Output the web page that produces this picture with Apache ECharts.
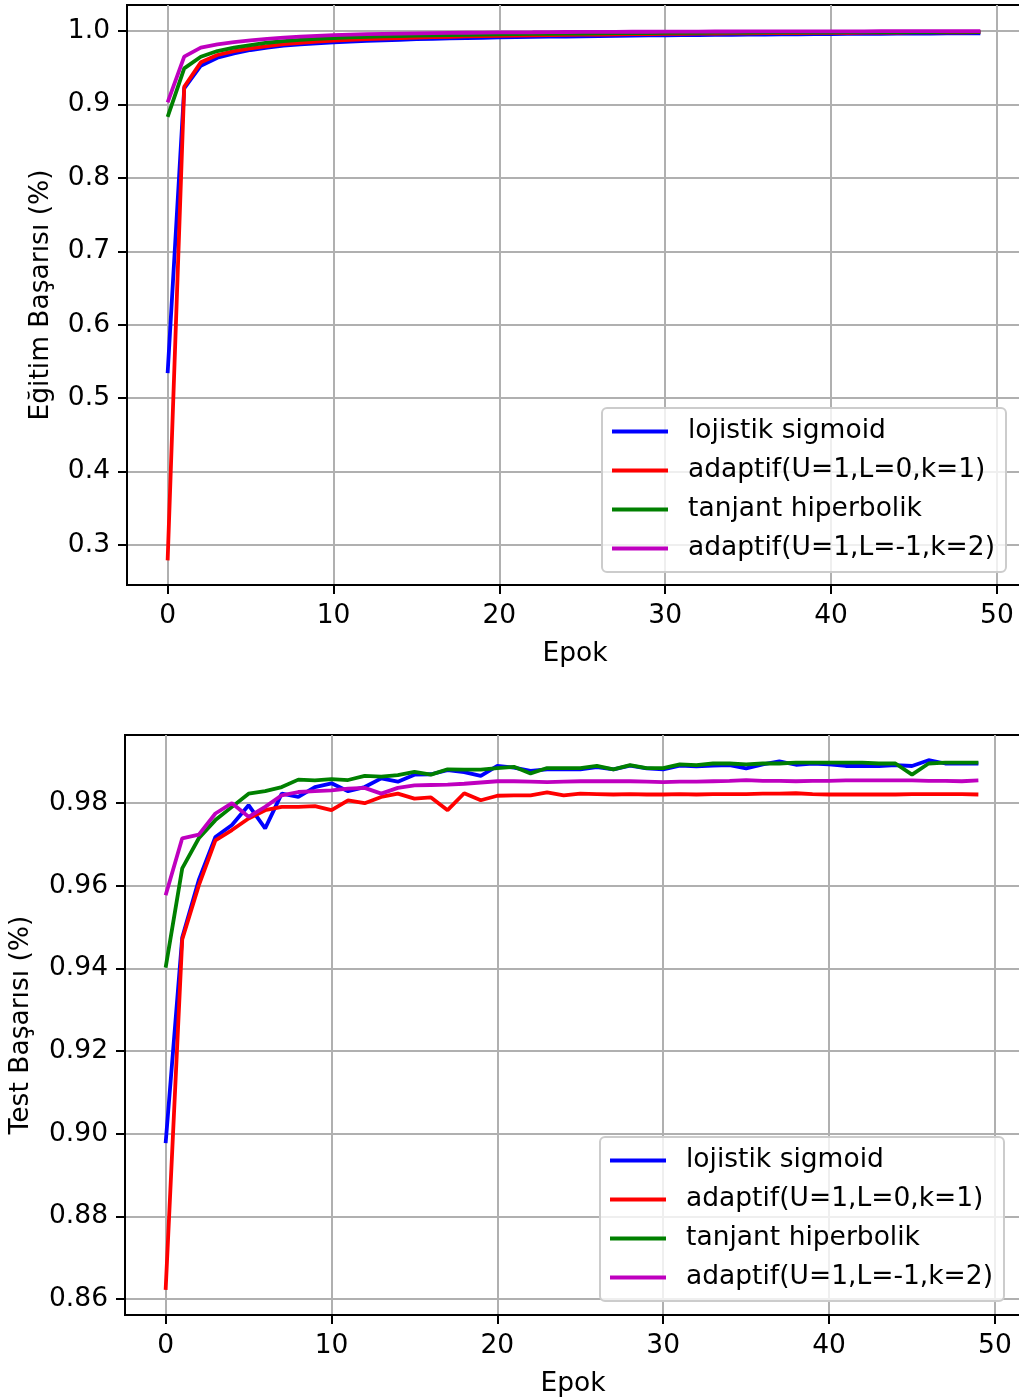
<!DOCTYPE html>
<html>
<head>
<meta charset="utf-8">
<script src="https://cdn.jsdelivr.net/npm/echarts@6/dist/echarts.min.js"></script>
<style>
html,body{margin:0;padding:0;background:#fff;overflow:hidden;}
#chart{width:1019px;height:1400px;}
</style>
</head>
<body>
<div id="chart"></div>
<script>
const epochs = [0,1,2,3,4,5,6,7,8,9,10,11,12,13,14,15,16,17,18,19,20,21,22,23,24,25,26,27,28,29,30,31,32,33,34,35,36,37,38,39,40,41,42,43,44,45,46,47,48,49];
const seriesNames = ['lojistik sigmoid', 'adaptif(U=1,L=0,k=1)', 'tanjant hiperbolik', 'adaptif(U=1,L=-1,k=2)'];

// Training accuracy (top)
const trainSigmoid = [0.534,0.922,0.9527,0.9636,0.9695,0.9741,0.9775,0.9800,0.9818,0.9833,0.9846,0.9857,0.9866,0.9874,0.9881,0.9888,0.9894,0.9899,0.9904,0.9908,0.9912,0.9916,0.9919,0.9922,0.9925,0.9928,0.9931,0.9934,0.9936,0.9939,0.9941,0.9943,0.9945,0.9947,0.9949,0.9951,0.9952,0.9954,0.9955,0.9957,0.9958,0.9960,0.9961,0.9962,0.9963,0.9964,0.9966,0.9967,0.9968,0.9969];
const trainAdaptif1 = [0.279,0.924,0.9573,0.9673,0.9727,0.9764,0.9795,0.9820,0.9840,0.9856,0.9869,0.9880,0.9889,0.9897,0.9904,0.9910,0.9916,0.9921,0.9926,0.9930,0.9934,0.9938,0.9941,0.9944,0.9947,0.9950,0.9952,0.9954,0.9956,0.9958,0.9960,0.9962,0.9964,0.9966,0.9967,0.9969,0.9970,0.9972,0.9973,0.9974,0.9975,0.9976,0.9977,0.9978,0.9979,0.9980,0.9981,0.9982,0.9983,0.9984];
const trainTanh = [0.8831,0.9491,0.9650,0.9727,0.9773,0.9809,0.9840,0.9862,0.9879,0.9893,0.9904,0.9913,0.9920,0.9926,0.9932,0.9937,0.9941,0.9945,0.9949,0.9952,0.9955,0.9958,0.9960,0.9962,0.9964,0.9966,0.9968,0.9970,0.9971,0.9973,0.9974,0.9975,0.9976,0.9977,0.9978,0.9979,0.9980,0.9981,0.9982,0.9982,0.9983,0.9984,0.9984,0.9985,0.9985,0.9986,0.9986,0.9987,0.9987,0.9988];
const trainAdaptif2 = [0.9027,0.9650,0.9773,0.9818,0.9848,0.9872,0.9893,0.9910,0.9923,0.9934,0.9943,0.9950,0.9956,0.9961,0.9965,0.9968,0.9971,0.9974,0.9976,0.9978,0.9980,0.9982,0.9983,0.9985,0.9986,0.9987,0.9988,0.9989,0.9990,0.9990,0.9991,0.9992,0.9992,0.9993,0.9993,0.9994,0.9994,0.9995,0.9995,0.9995,0.9996,0.9996,0.9996,0.9997,0.9997,0.9997,0.9997,0.9998,0.9998,0.9998];

// Test accuracy (bottom)
const testSigmoid = [0.8977,0.9475,0.9614,0.9718,0.9747,0.9795,0.9739,0.9823,0.9815,0.9839,0.9848,0.9829,0.9839,0.9860,0.9852,0.9869,0.9870,0.9880,0.9875,0.9866,0.9890,0.9886,0.9878,0.9882,0.9882,0.9882,0.9887,0.9882,0.9891,0.9884,0.9882,0.9891,0.9889,0.9891,0.9892,0.9884,0.9894,0.9901,0.9893,0.9896,0.9894,0.9890,0.9890,0.9890,0.9892,0.9890,0.9904,0.9896,0.9896,0.9896];
const testAdaptif1 = [0.8622,0.9470,0.9601,0.9710,0.9735,0.9763,0.9783,0.9791,0.9791,0.9793,0.9783,0.9807,0.9800,0.9815,0.9823,0.9811,0.9814,0.9783,0.9824,0.9807,0.9818,0.9819,0.9819,0.9826,0.9819,0.9823,0.9822,0.9821,0.9822,0.9821,0.9821,0.9822,0.9821,0.9822,0.9822,0.9822,0.9823,0.9823,0.9824,0.9822,0.9821,0.9821,0.9821,0.9821,0.9821,0.9822,0.9822,0.9822,0.9822,0.9821];
const testTanh = [0.9402,0.9642,0.9715,0.9759,0.9791,0.9823,0.9829,0.9839,0.9857,0.9855,0.9858,0.9856,0.9866,0.9864,0.9868,0.9876,0.9869,0.9882,0.9881,0.9881,0.9885,0.9888,0.9872,0.9885,0.9885,0.9885,0.9890,0.9882,0.9892,0.9885,0.9885,0.9894,0.9892,0.9896,0.9896,0.9894,0.9896,0.9896,0.9898,0.9898,0.9898,0.9898,0.9898,0.9896,0.9896,0.9869,0.9896,0.9898,0.9898,0.9898];
const testAdaptif2 = [0.9577,0.9715,0.9724,0.9775,0.9800,0.9767,0.9791,0.9819,0.9827,0.9829,0.9831,0.9835,0.9837,0.9823,0.9837,0.9843,0.9844,0.9845,0.9847,0.9850,0.9853,0.9853,0.9852,0.9851,0.9852,0.9853,0.9853,0.9853,0.9853,0.9852,0.9851,0.9852,0.9852,0.9853,0.9854,0.9856,0.9854,0.9854,0.9853,0.9854,0.9854,0.9855,0.9855,0.9855,0.9855,0.9855,0.9854,0.9854,0.9853,0.9855];

// Tick labels
const xTicks = [0,10,20,30,40,50];
const yTicksTop = [0.3,0.4,0.5,0.6,0.7,0.8,0.9,1.0];
const yTicksBottom = [0.86,0.88,0.90,0.92,0.94,0.96,0.98];

const colors = ['#0000ff', '#ff0000', '#008000', '#bf00bf'];
const FONT = 'DejaVu Sans';
const FS = 26.5;

function xAxisDef(gridIndex) {
  return {
    type: 'value', gridIndex: gridIndex,
    min: -2.45, max: 51.57,
    name: 'Epok', nameLocation: 'middle', nameGap: 56,
    nameTextStyle: {fontFamily: FONT, fontSize: FS, color: '#000'},
    axisLine: {show: true, onZero: false, lineStyle: {color: '#000', width: 2}},
    axisTick: {show: true, inside: false, length: 9, lineStyle: {color: '#000', width: 2}, customValues: xTicks},
    axisLabel: {show: true, margin: 18, fontFamily: FONT, fontSize: FS, color: '#000', customValues: xTicks,
      formatter: v => String(Math.round(v))},
    splitLine: {show: true, lineStyle: {color: '#b0b0b0', width: 2}}
  };
}
function yAxisDef(gridIndex, min, max, ticks, dec, name, gap) {
  return {
    type: 'value', gridIndex: gridIndex,
    min: min, max: max,
    name: name, nameLocation: 'middle', nameGap: gap,
    nameTextStyle: {fontFamily: FONT, fontSize: FS, color: '#000'},
    axisLine: {show: true, onZero: false, lineStyle: {color: '#000', width: 2}},
    axisTick: {show: true, inside: false, length: 9, lineStyle: {color: '#000', width: 2}, customValues: ticks},
    axisLabel: {show: true, margin: 17, fontFamily: FONT, fontSize: FS, color: '#000', customValues: ticks,
      formatter: v => Number(v).toFixed(dec)},
    splitLine: {show: true, lineStyle: {color: '#b0b0b0', width: 2}}
  };
}
function legendDef(left, top) {
  return {
    orient: 'vertical', left: left, top: top,
    data: seriesNames,
    icon: 'rect', itemWidth: 56, itemHeight: 4, itemGap: 12,
    padding: [10, 11, 10, 10],
    backgroundColor: 'rgba(255,255,255,0.8)',
    borderColor: '#cccccc', borderWidth: 2, borderRadius: 5,
    textStyle: {fontFamily: FONT, fontSize: FS, color: '#000', lineHeight: 27, padding: [0, 0, 0, 15]},
    selectedMode: false
  };
}
function lineSeries(name, data, idx, gridIdx) {
  return {
    type: 'line', name: name,
    xAxisIndex: gridIdx, yAxisIndex: gridIdx,
    data: epochs.map((e, i) => [e, data[i]]),
    showSymbol: false, symbol: 'none',
    lineStyle: {color: colors[idx], width: 3.8},
    itemStyle: {color: colors[idx]},
    animation: false, z: 3 + idx
  };
}

const chart = echarts.init(document.getElementById('chart'), null, {renderer: 'canvas'});
chart.setOption({
  backgroundColor: '#fff',
  animation: false,
  grid: [
    {left: 127, top: 5, width: 896, height: 580, show: true, borderColor: '#000', borderWidth: 2, backgroundColor: 'transparent', containLabel: false, outerBoundsMode: 'none'},
    {left: 125, top: 735, width: 896, height: 580, show: true, borderColor: '#000', borderWidth: 2, backgroundColor: 'transparent', containLabel: false, outerBoundsMode: 'none'}
  ],
  xAxis: [xAxisDef(0), xAxisDef(1)],
  yAxis: [
    yAxisDef(0, 0.2455, 1.0354, yTicksTop, 1, 'Eğitim Başarısı (%)', 72),
    yAxisDef(1, 0.8561, 0.9965, yTicksBottom, 2, 'Test Başarısı (%)', 90)
  ],
  legend: [legendDef(602, 408), legendDef(600, 1137)],
  series: [
    lineSeries(seriesNames[0], trainSigmoid, 0, 0),
    lineSeries(seriesNames[1], trainAdaptif1, 1, 0),
    lineSeries(seriesNames[2], trainTanh, 2, 0),
    lineSeries(seriesNames[3], trainAdaptif2, 3, 0),
    lineSeries(seriesNames[0], testSigmoid, 0, 1),
    lineSeries(seriesNames[1], testAdaptif1, 1, 1),
    lineSeries(seriesNames[2], testTanh, 2, 1),
    lineSeries(seriesNames[3], testAdaptif2, 3, 1)
  ]
});
</script>
</body>
</html>
